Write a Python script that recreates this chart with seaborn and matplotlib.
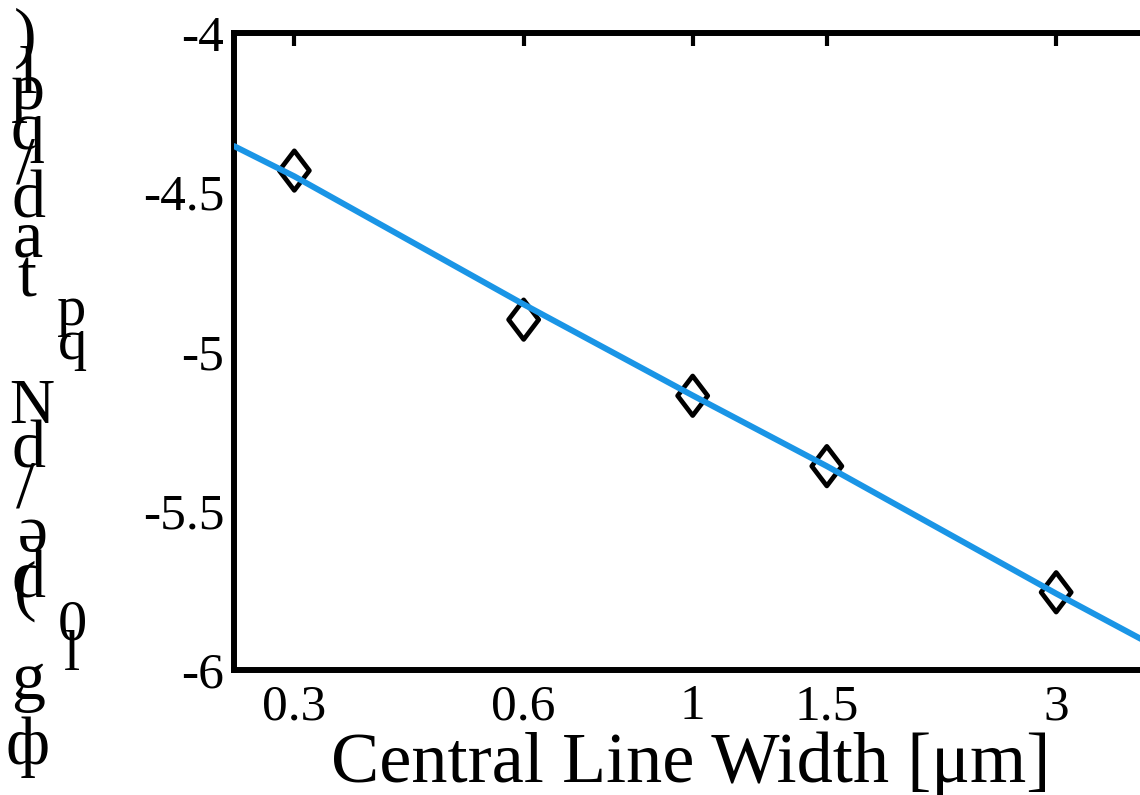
import matplotlib
matplotlib.use("Agg")
import matplotlib.pyplot as plt
from matplotlib.path import Path
from matplotlib.ticker import NullLocator
import seaborn as sns

# ---------------- data ----------------
width_um = [0.3, 0.6, 1, 1.5, 3]
measured = [-4.432, -4.900, -5.139, -5.360, -5.756]
fit_x = [0.25, 0.3, 0.6, 1, 1.5, 3, 4.0]
fit_y = [-4.355, -4.45, -4.852, -5.138, -5.36, -5.76, -5.92]
xticks = [0.3, 0.6, 1, 1.5, 3]
xtick_labels = ["0.3", "0.6", "1", "1.5", "3"]
yticks = [-6, -5.5, -5, -4.5, -4]
ytick_labels = ["-6", "-5.5", "-5", "-4.5", "-4"]
xlabel = "Central Line Width [μm]"
# garbled (stacked) y-label glyphs: char, x px, baseline px, size pt, rotation
ylabel_glyphs = [
    (")", 25, 55, 49, 0), ("l", 28, 93, 49, 0), ("p", 28, 109, 49, 0),
    ("q", 28, 149, 49, 0), ("/", 25, 182, 49, 0), ("d", 28, 218, 49, 0),
    ("a", 28, 257, 49, 0), ("t", 27, 297, 49, 0),
    ("p", 72, 325, 42, 0), ("q", 72, 359, 42, 0),
    ("N", 32, 423, 45, 0), ("d", 28, 467, 49, 0), ("/", 25, 507, 49, 0),
    ("e", 28, 518, 49, 180), ("d", 28, 597, 49, 0), ("(", 25, 608, 49, 0),
    ("0", 72, 640, 42, 0), ("l", 72, 670, 42, 0),
    ("g", 28, 699, 49, 0), ("ф", 28, 764, 49, 0),
]

# ---------------- style ----------------
sns.set_style("white")
plt.rcParams["font.family"] = ["Liberation Serif", "DejaVu Serif"]
plt.rcParams["text.color"] = "black"
plt.rcParams["axes.labelcolor"] = "black"
plt.rcParams["xtick.color"] = "black"
plt.rcParams["ytick.color"] = "black"

W, H = 1140, 795
fig = plt.figure(figsize=(W / 100, H / 100), dpi=100)
ax = fig.add_axes([234 / W, 1 - 670 / H, 919 / W, 637 / H])

sns.lineplot(x=fit_x, y=fit_y, ax=ax, color="#1a95e6", linewidth=4.3,
             zorder=3, estimator=None, sort=False)

diamond = Path([(0, 1), (0.76, 0), (0, -1), (-0.76, 0), (0, 1)],
               [Path.MOVETO, Path.LINETO, Path.LINETO, Path.LINETO, Path.CLOSEPOLY])
sns.scatterplot(x=width_um, y=measured, ax=ax, marker=diamond, s=28.5 ** 2,
                color="black", linewidth=3.4, zorder=2)
pts = ax.collections[-1]
pts.set_facecolor("none")
pts.set_edgecolor("black")

ax.set_xscale("log")
ax.set_xlim(0.25, 4.02)
ax.set_ylim(-6, -4)
ax.set_xticks(xticks)
ax.set_xticklabels(xtick_labels)
ax.set_yticks(yticks)
ax.set_yticklabels(ytick_labels)
ax.xaxis.set_minor_locator(NullLocator())
ax.yaxis.set_minor_locator(NullLocator())
ax.tick_params(direction="in", length=9, width=3, top=True, right=True,
               labelsize=37)
ax.tick_params(axis="x", pad=10)
ax.tick_params(axis="y", pad=7)
for sp in ax.spines.values():
    sp.set_linewidth(4.3)
    sp.set_color("black")
    sp.set_visible(True)

ax.set_xlabel(xlabel, fontsize=52)
ax.xaxis.set_label_coords(0.497, -0.1758)
ax.xaxis.label.set_va("baseline")
ax.set_ylabel("")

for ch, px, py, sz, rot in ylabel_glyphs:
    fig.text(px / W, 1 - py / H, ch, ha="center", va="baseline",
             fontsize=sz, rotation=rot, rotation_mode="anchor")

fig.savefig("out.png", dpi=100)
